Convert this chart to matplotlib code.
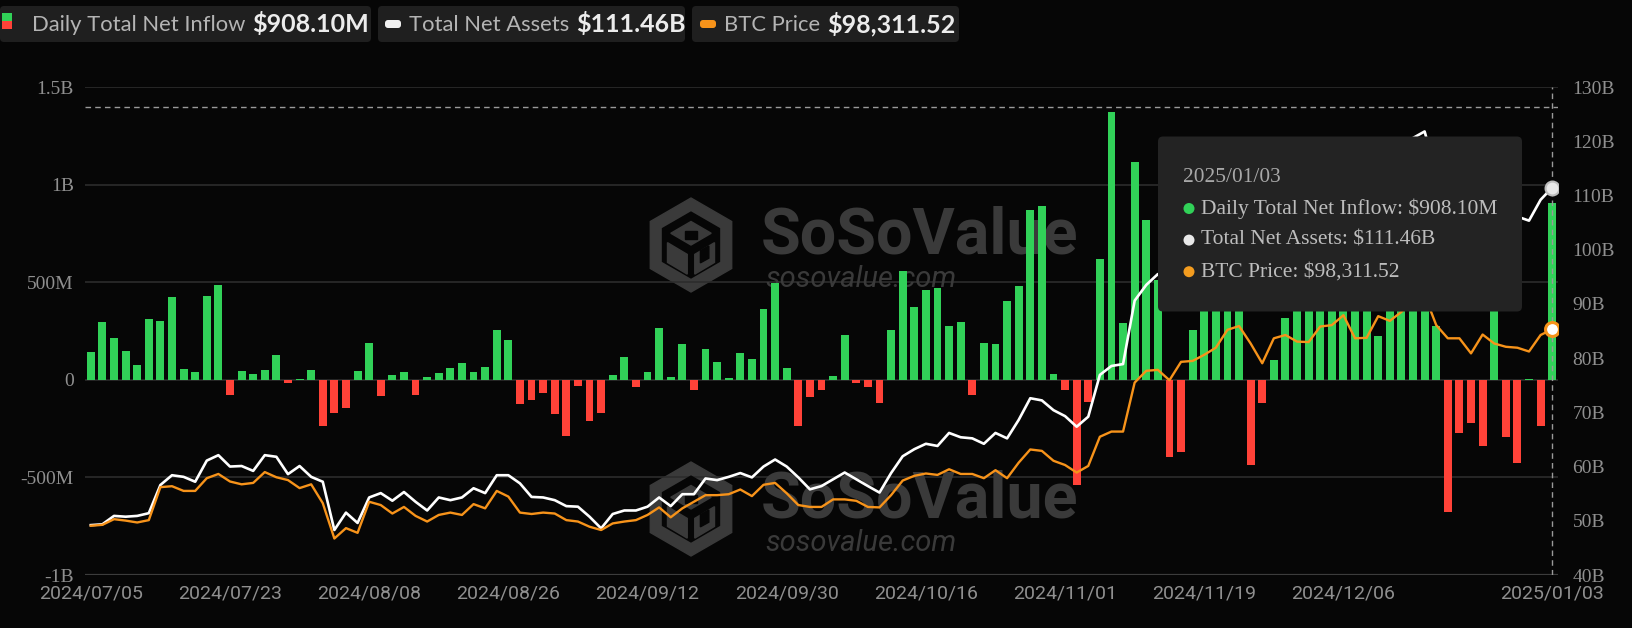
import numpy as np
import pandas as pd
import matplotlib
matplotlib.use("Agg")
import matplotlib.pyplot as plt
from matplotlib.patches import FancyBboxPatch, Polygon, Circle
from matplotlib.transforms import IdentityTransform

W, H = 1632, 628

# trading days 2024/07/05 .. 2025/01/03
days = pd.bdate_range("2024-07-05", "2025-01-03")
holidays = pd.to_datetime(["2024-09-02", "2024-11-28", "2024-12-25", "2025-01-01"])
days = days[~days.isin(holidays)]
dates = [d.strftime("%Y/%m/%d") for d in days]

# daily total net inflow, millions USD
inflow = [142, 294, 215, 145, 77, 311, 301, 422, 53, 38,
          427, 485, -77, 43, 31, 51, 125, -17, 2, 50,
          -236, -168, -147, 43, 191, -85, 26, 38, -79, 12,
          34, 62, 87, 38, 65, 253, 202, -125, -103, -68,
          -174, -287, -34, -210, -168, 26, 116, -39, 38, 263,
          14, 185, -51, 156, 89, 7, 135, 106, 364, 494,
          60, -239, -87, -51, 22, 232, -17, -36, -120, 253,
          556, 371, 458, 468, 274, 294, -77, 191, 185, 402,
          479, 868, 892, 31, -51, -538, -115, 619, 1374, 292,
          1114, 817, 510, -398, -368, 253, 816, 773, 1000, 490,
          -436, -120, 103, 316, 353, 676, 556, 766, 376, 479,
          439, 222, 597, 428, 637, 494, 274, -675, -274, -222,
          -337, 475, -294, -424, 5, -239, 908.10]

# total net assets, billions USD
assets = [49.2, 49.35, 50.9, 50.75, 50.9, 51.4, 56.6, 58.4, 58.1, 57.2,
          61.1, 62.1, 60.0, 60.1, 59.2, 62.1, 61.8, 58.6, 60.1, 58.1,
          57.2, 48.3, 51.5, 49.6, 54.3, 55.1, 53.7, 55.3, 53.5, 51.9,
          54.3, 53.8, 54.3, 56.0, 55.1, 58.4, 58.4, 56.9, 54.4, 54.3,
          53.8, 52.7, 52.6, 50.75, 48.6, 51.25, 51.9, 51.9, 52.6, 54.3,
          52.7, 54.9, 54.9, 57.8, 57.5, 58.1, 58.8, 58.0, 60.0, 61.3,
          60.0, 58.0, 55.8, 56.4, 57.65, 58.9, 57.65, 56.4, 55.2, 58.8,
          61.9, 63.2, 64.2, 63.8, 66.2, 65.4, 65.2, 64.2, 66.2, 65.2,
          68.6, 72.6, 72.2, 70.4, 69.3, 67.35, 69.2, 76.9, 78.55, 78.9,
          90.6, 93.5, 95.5, 92.8, 96.6, 97.1, 99.4, 101.8, 107.0, 108.4,
          103.9, 99.1, 105.1, 106.1, 105.0, 105.5, 109.8, 110.9, 113.7, 108.6,
          109.1, 114.5, 114.0, 116.6, 120.6, 121.8, 114.1, 110.2, 109.9, 106.1,
          110.2, 108.5, 107.4, 106.1, 105.35, 109.2, 111.46]

# BTC price, USD
btc = [56600, 56800, 58000, 57700, 57300, 57800, 64800, 65000, 64000, 64000,
       66700, 67600, 66000, 65400, 65700, 68000, 66900, 66300, 64600, 65400,
       61400, 53900, 56100, 55100, 61700, 61000, 59200, 60600, 58700, 57500,
       58900, 59400, 58900, 61200, 60300, 64000, 62800, 59400, 59100, 59400,
       59200, 57800, 57500, 56400, 55700, 57100, 57500, 57800, 58900, 60500,
       58400, 60300, 61700, 63100, 63100, 63300, 64300, 62900, 65300, 65700,
       63500, 61000, 60600, 60600, 62200, 62200, 61900, 60600, 60500, 63100,
       66200, 67200, 67700, 67400, 68600, 67600, 67600, 66700, 68400, 66700,
       70000, 72800, 72500, 70400, 69500, 67900, 69300, 75500, 76600, 76600,
       87000, 89500, 89700, 87500, 91400, 91600, 92900, 94400, 98200, 99000,
       95300, 91100, 96400, 97100, 95700, 95600, 98900, 99200, 101300, 96400,
       96500, 101100, 100100, 102000, 104500, 105600, 99200, 96400, 96400, 93200,
       97200, 95300, 94600, 94400, 93600, 97100, 98311.52]

tick_idx = [0, 12, 24, 36, 48, 60, 72, 84, 96, 108, 126]

BG = "#060606"
GREEN = "#31d158"
RED = "#ff4238"
ORANGE = "#f7931a"
GREY_TXT = "#8f8f8f"


def disp(x, y):
    # screen pixel (from top-left) -> display coords
    return x, H - y


def frac(x, y):
    return x / W, 1 - y / H


fig = plt.figure(figsize=(W / 100, H / 100), dpi=100, facecolor=BG)

ax = fig.add_axes([85 / W, 53 / H, 1473 / W, 488 / H])
ax.set_facecolor(BG)
x = np.arange(len(inflow))
cols = [GREEN if v >= 0 else RED for v in inflow]
ax.bar(x, inflow, width=0.68, color=cols, zorder=2)
ax.set_xlim(-0.5, len(inflow) - 0.5)
ax.set_ylim(-1000, 1500)
ax.set_yticks([-1000, -500, 0, 500, 1000, 1500])
ax.set_yticklabels(["-1B", "-500M", "0", "500M", "1B", "1.5B"],
                   family="Liberation Serif", fontsize=14, color=GREY_TXT)
ax.yaxis.grid(True, color="#2c2c2c", lw=1.2)
ax.set_axisbelow(True)
ax.axhline(-1000, color="#3c3c3c", lw=1.6, zorder=1)
ax.set_xticks(tick_idx)
ax.set_xticklabels([dates[i] for i in tick_idx],
                   family=["Liberation Sans Narrow", "Roboto"], fontsize=14, color=GREY_TXT)
ax.tick_params(axis="both", length=0)
ax.tick_params(axis="y", pad=8)
ax.tick_params(axis="x", pad=7)
for s in ax.spines.values():
    s.set_visible(False)

# crosshair
ax.axhline(1399, color="#9a9a9a", lw=1, ls=(0, (4, 3)), zorder=5)
ax.axvline(126, color="#9a9a9a", lw=1, ls=(0, (4, 3)), zorder=5)

# watermarks (behind the bars)
WM = "#3a3a3a"
for cy, base1, base2 in [(245, 254, 287), (509, 518, 551)]:
    cx, r = 691, 47
    ang = np.radians([90, 150, 210, 270, 330, 30])
    outer = [frac(cx + r * np.cos(a), cy - r * np.sin(a)) for a in ang]
    inner = [frac(cx + 0.7 * r * np.cos(a), cy - 0.7 * r * np.sin(a)) for a in ang]
    ax.add_patch(Polygon(outer, closed=True, color=WM, transform=fig.transFigure, zorder=0.5))
    ax.add_patch(Polygon(inner, closed=True, color=BG, transform=fig.transFigure, zorder=0.6))
    # cube-like S glyph
    top = [frac(cx, cy - 0.5 * r), frac(cx + 0.43 * r, cy - 0.25 * r),
           frac(cx, cy), frac(cx - 0.43 * r, cy - 0.25 * r)]
    ax.add_patch(Polygon(top, closed=True, color=WM, transform=fig.transFigure, zorder=0.7))
    ax.add_patch(Polygon([frac(cx - 0.12 * r, cy - 0.3 * r), frac(cx + 0.12 * r, cy - 0.3 * r),
                          frac(cx + 0.12 * r, cy - 0.12 * r), frac(cx - 0.12 * r, cy - 0.12 * r)],
                         closed=True, color=BG, transform=fig.transFigure, zorder=0.75))
    left = [frac(cx - 0.5 * r, cy - 0.05 * r), frac(cx - 0.08 * r, cy + 0.2 * r),
            frac(cx - 0.08 * r, cy + 0.62 * r), frac(cx - 0.5 * r, cy + 0.37 * r)]
    ax.add_patch(Polygon(left, closed=True, color=WM, transform=fig.transFigure, zorder=0.7))
    right = [frac(cx + 0.08 * r, cy + 0.2 * r), frac(cx + 0.5 * r, cy - 0.05 * r),
             frac(cx + 0.5 * r, cy + 0.37 * r), frac(cx + 0.08 * r, cy + 0.62 * r)]
    ax.add_patch(Polygon(right, closed=True, color=WM, transform=fig.transFigure, zorder=0.7))
    ax.add_patch(Polygon([frac(cx + 0.2 * r, cy + 0.12 * r), frac(cx + 0.38 * r, cy + 0.02 * r),
                          frac(cx + 0.38 * r, cy + 0.28 * r), frac(cx + 0.2 * r, cy + 0.38 * r)],
                         closed=True, color=BG, transform=fig.transFigure, zorder=0.75))
    ax.text(*frac(761, base1), "SoSoValue", transform=fig.transFigure, family="Roboto",
            fontweight="bold", fontsize=46.5, color=WM, va="baseline", zorder=0.8)
    ax.text(*frac(765, base2), "sosovalue.com", transform=fig.transFigure, family="Roboto",
            style="italic", fontsize=21, color=WM, va="baseline", zorder=0.8)

# total net assets axis
ax2 = ax.twinx()
ax2.set_ylim(40, 130)
ax2.set_yticks(np.arange(40, 131, 10))
ax2.set_yticklabels([f"{v}B" for v in range(40, 131, 10)],
                    family="Liberation Serif", fontsize=14, color=GREY_TXT)
ax2.tick_params(axis="y", length=0, pad=10.5)
for s in ax2.spines.values():
    s.set_visible(False)

# BTC price axis (hidden)
ax3 = ax.twinx()
ax3.set_ylim(46150, 149750)
ax3.set_yticks([])
for s in ax3.spines.values():
    s.set_visible(False)
ax3.plot(x, btc, color=ORANGE, lw=1.7, zorder=3)
ax3.plot(x[-1], btc[-1], "o", ms=10, mfc="white", mec=ORANGE, mew=2.2, zorder=4)
ax2.plot(x, assets, color="white", lw=1.9, zorder=3)
ax2.plot(x[-1], assets[-1], "o", ms=10, mfc="#e8e8e8", mec="#bdbdbd", mew=1.5, zorder=4)
ax2.set_zorder(ax.get_zorder() + 1)
ax3.set_zorder(ax.get_zorder() + 2)
ax2.patch.set_visible(False)
ax3.patch.set_visible(False)

# header legend chips
chips = [(0, 371), (378, 685), (692, 959)]
for x0, x1 in chips:
    fig.patches.append(FancyBboxPatch(disp(x0, 42), x1 - x0, 36,
                                      boxstyle="round,pad=0,rounding_size=4",
                                      fc="#1f1f1f", ec="none", transform=IdentityTransform(),
                                      figure=fig, zorder=1))
fig.patches.append(plt.Rectangle(disp(2, 21), 10, 8, fc=GREEN, ec="none",
                                 transform=IdentityTransform(), figure=fig, zorder=2))
fig.patches.append(plt.Rectangle(disp(2, 29), 10, 8, fc=RED, ec="none",
                                 transform=IdentityTransform(), figure=fig, zorder=2))
for px0, c in [(385, "#f0f0f0"), (700, ORANGE)]:
    fig.patches.append(FancyBboxPatch(disp(px0, 28), 16, 8,
                                      boxstyle="round,pad=0,rounding_size=3",
                                      fc=c, ec="none", transform=IdentityTransform(),
                                      figure=fig, zorder=2))
renderer = fig.canvas.get_renderer()
header = [(32, "Daily Total Net Inflow", "$908.10M"),
          (409, "Total Net Assets", "$111.46B"),
          (724, "BTC Price", "$98,311.52")]
for lx, label, val in header:
    t = fig.text(*frac(lx, 25), label, family="Lato", fontsize=15.8, color="#b4b4b4", va="center")
    ext = t.get_window_extent(renderer)
    fig.text(*frac(ext.x1 + 7, 24), val, family="Lato", fontweight="bold", fontsize=18,
             color="#ececec", va="center")

# tooltip
fig.patches.append(FancyBboxPatch(disp(1158, 311.5), 364, 175,
                                  boxstyle="round,pad=0,rounding_size=5",
                                  fc="#232323", ec="none", transform=IdentityTransform(),
                                  figure=fig, zorder=5))
fig.text(*frac(1183, 177), dates[-1], family="Liberation Serif", fontsize=15.4,
         color="#a8a8a8", va="center", zorder=6)
tips = [(GREEN, "Daily Total Net Inflow: $908.10M"),
        ("#e8e8e8", "Total Net Assets: $111.46B"),
        ("#f39c1f", "BTC Price: $98,311.52")]
for k, (c, t) in enumerate(tips):
    yy = 208.5 + k * 31.6
    fig.patches.append(Circle(disp(1189, yy), 5.5, fc=c, ec="none",
                              transform=IdentityTransform(), figure=fig, zorder=6))
    fig.text(*frac(1201, yy), t, family="Liberation Serif", fontsize=15.5,
             color="#bdbdbd", va="center", zorder=6)

fig.savefig("out.png", dpi=100, facecolor=BG)
